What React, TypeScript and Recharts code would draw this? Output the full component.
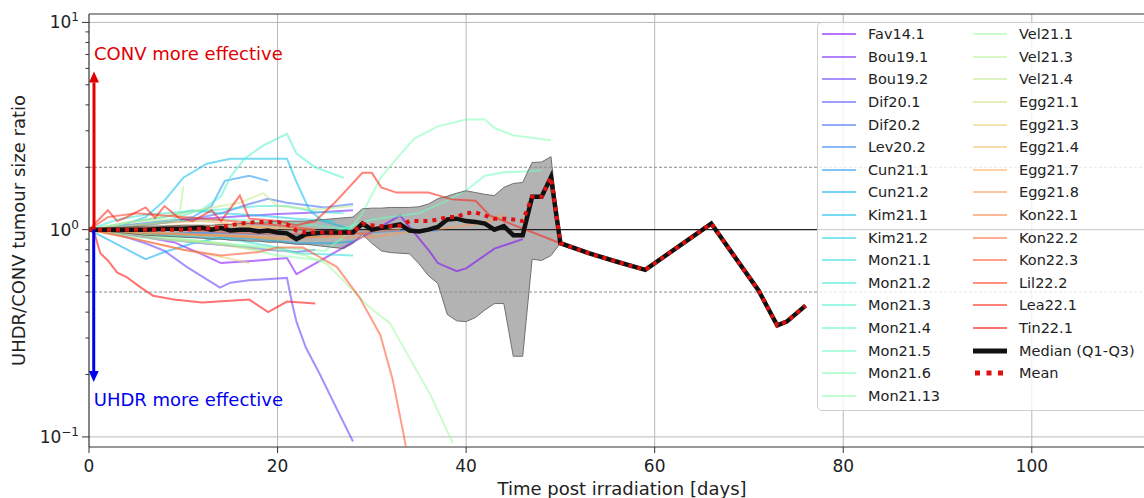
import { ComposedChart, Line, Area, XAxis, YAxis, ReferenceLine } from 'recharts'

const studyNames = [
  'Fav14.1', 'Bou19.1', 'Bou19.2', 'Dif20.1', 'Dif20.2', 'Lev20.2', 'Cun21.1', 'Cun21.2',
  'Kim21.1', 'Kim21.2', 'Mon21.1', 'Mon21.2', 'Mon21.3', 'Mon21.4', 'Mon21.5', 'Mon21.6',
  'Mon21.13', 'Vel21.1', 'Vel21.3', 'Vel21.4', 'Egg21.1', 'Egg21.3', 'Egg21.4', 'Egg21.7',
  'Egg21.8', 'Kon22.1', 'Kon22.2', 'Kon22.3', 'Lil22.2', 'Lea22.1', 'Tin22.1',
]

// [day, UHDR/CONV ratio]
const Fav14_1 = [[0, 1], [3, 0.96], [6, 0.92], [9, 0.87], [12, 0.76], [14, 0.69], [16, 0.7], [18, 0.71], [21, 0.73], [22, 0.61], [33, 1.17], [36, 0.8], [37, 0.69], [39, 0.63], [40, 0.65], [43, 0.81], [46, 0.9]]
const Bou19_1 = [[0, 1], [4, 1.05], [8, 1.1], [12, 1.13], [16, 1.16], [20, 1.19], [24, 1.21], [28, 1.24]]
const Bou19_2 = [[0, 1], [3, 0.95], [6, 0.86], [8, 0.79], [10.4, 0.66], [13.9, 0.525], [15, 0.555], [17, 0.57], [21, 0.585], [21.5, 0.45], [22, 0.36], [23, 0.27], [24.5, 0.2], [26, 0.145], [28, 0.095]]
const Dif20_1 = [[0, 1], [4, 0.95], [8, 0.9], [12, 0.86], [16, 0.83], [19, 0.8], [22, 0.78], [24, 0.8]]
const Dif20_2 = [[0, 1], [5, 1.05], [10, 1.1], [14, 1.2], [17, 1.33], [19, 1.41], [21, 1.35], [25, 1.28], [28, 1.33]]
const Lev20_2 = [[0, 1], [4, 0.97], [8, 0.95], [12, 0.97], [16, 0.96], [20, 0.95], [24, 0.94], [28, 0.96], [33, 0.99], [37, 0.99]]
const Cun21_1 = [[0, 1], [4, 1.03], [8, 1.08], [11, 1.15], [13, 1.3], [14.4, 1.72], [17, 1.82], [19, 1.72]]
const Cun21_2 = [[0, 1], [3, 0.85], [6, 0.72], [8, 0.78], [11, 0.86], [14, 0.92], [18, 0.9], [22, 0.86], [26, 0.86], [28, 0.88]]
const Kim21_1 = [[0, 1], [3, 1.03], [6, 1.15], [8, 1.38], [10, 1.78], [12.5, 2.08], [15, 2.2], [21, 2.2], [22, 1.7], [23.4, 1.24], [24.8, 1.1], [27.7, 1.01]]
const Kim21_2 = [[0, 1], [4, 1.08], [8, 1.15], [11, 1.24], [14, 1.2], [18, 1.17], [22, 1.13], [26, 1.1]]
const Mon21_1 = [[0, 1], [5, 0.95], [10, 0.93], [15, 0.9], [20, 0.82], [22, 0.77], [25, 0.76], [28, 0.75]]
const Mon21_2 = [[0, 1], [3, 1.12], [6, 1.18], [10, 1.22], [14, 1.25], [18, 1.3], [21, 1.3], [24, 1.22], [27, 1.2]]
const Mon21_3 = [[0, 1], [4, 1.03], [8, 1.1], [12, 1.25], [14, 1.45], [15, 1.8], [16.5, 2.2], [18.5, 2.55], [21, 2.9], [22, 2.33], [24, 2.0], [27, 1.78]]
const Mon21_4 = [[0, 1], [5, 1.06], [10, 1.1], [15, 1.12], [20, 1.08], [24, 1.05], [28, 1.0]]
const Mon21_5 = [[0, 1], [5, 0.97], [10, 0.95], [15, 0.93], [20, 0.9], [25, 0.95], [30, 1.12], [35, 1.2], [38, 1.38], [40, 1.55], [42, 1.82], [44, 1.89], [48, 1.93]]
const Mon21_6 = [[0, 1], [5, 0.95], [10, 0.9], [15, 0.85], [20, 0.82], [25, 0.79], [27, 0.92], [29, 1.2], [31, 1.8], [33, 2.3], [34.5, 2.75], [37, 3.15], [40, 3.4], [42, 3.4], [43, 3.1], [45, 2.85], [49, 2.7]]
const Mon21_13 = [[0, 1], [5, 0.92], [10, 0.88], [15, 0.85], [20, 0.75], [25, 0.71]]
const Vel21_1 = [[0, 1], [5, 0.95], [10, 0.9], [15, 0.85], [20, 0.8], [23, 0.75], [25.2, 0.685], [27.7, 0.525], [29.8, 0.42], [31.9, 0.355], [34, 0.24], [36.2, 0.16], [38.6, 0.093]]
const Vel21_3 = [[0, 1], [4, 1.08], [8, 1.12], [9.5, 1.1], [10, 1.62]]
const Vel21_4 = [[0, 1], [5, 1.1], [10, 1.2], [14, 1.3], [16, 1.35], [18.5, 1.5], [20, 1.3], [24, 1.25], [28, 1.3]]
const Egg21_1 = [[0, 1], [4, 0.95], [8, 0.9], [12, 0.87], [16, 0.82], [18, 0.8]]
const Egg21_3 = [[0, 1], [5, 0.9], [10, 0.8], [14, 0.74], [17, 0.69]]
const Egg21_4 = [[0, 1], [5, 1.03], [10, 1.05], [15, 1.04], [20, 1.02], [24, 1.0]]
const Egg21_7 = [[0, 1], [4, 1.04], [8, 1.08], [12, 1.1], [16, 1.06], [20, 1.0]]
const Egg21_8 = [[0, 1], [10, 0.95], [20, 0.92], [30, 0.92], [34, 0.98], [38, 1.02], [42, 1.08], [44, 1.18]]
const Kon22_1 = [[0, 1], [5, 0.96], [10, 0.95], [15, 0.93], [20, 0.9], [25, 0.93], [30, 0.98], [33, 1.0]]
const Kon22_2 = [[0, 1], [5, 1.02], [10, 1.0], [15, 0.97], [20, 0.95], [25, 0.96], [30, 0.95]]
const Kon22_3 = [[0, 1], [5, 0.9], [10, 0.8], [14, 0.75], [18, 0.78], [20, 0.82], [22.7, 0.82], [26.3, 0.66], [28.7, 0.47], [30.9, 0.31], [32.2, 0.19], [33.3, 0.107], [33.6, 0.09]]
const Lil22_2 = [[0, 1], [2, 1.15], [5, 1.2], [10, 1.15], [15, 1.1], [20, 1.05], [24, 1.0]]
const Lea22_1 = [[0, 1], [2, 1.24], [3, 1.1], [4, 1.15], [6, 1.28], [7, 1.14], [8, 1.3], [9.5, 1.14], [11, 1.1], [13, 1.24], [14, 1.1], [16, 1.46], [17, 1.13], [20, 1.1], [22, 1.05], [24, 1.1], [26, 1.34], [29, 1.88], [30, 1.88], [31, 1.6], [32.6, 1.51], [36, 1.51], [38.5, 1.4], [41, 1.38], [42.5, 1.17], [50, 0.86]]
const Tin22_1 = [[0, 1], [0.6, 0.955], [1.2, 0.77], [2, 0.71], [3, 0.62], [4, 0.59], [5.4, 0.53], [6.8, 0.48], [9, 0.46], [12, 0.445], [17, 0.46], [19, 0.4], [21, 0.45], [24, 0.44]]

const studies = [
  Fav14_1, Bou19_1, Bou19_2, Dif20_1, Dif20_2, Lev20_2, Cun21_1, Cun21_2, Kim21_1, Kim21_2,
  Mon21_1, Mon21_2, Mon21_3, Mon21_4, Mon21_5, Mon21_6, Mon21_13, Vel21_1, Vel21_3, Vel21_4,
  Egg21_1, Egg21_3, Egg21_4, Egg21_7, Egg21_8, Kon22_1, Kon22_2, Kon22_3, Lil22_2, Lea22_1, Tin22_1,
]

const summaryDays = [0, 2, 4, 6, 8, 10, 12, 13, 14, 15, 16, 17, 18, 19, 20, 21, 22, 23, 24, 25, 26, 27, 28, 29, 30, 31, 32, 33, 34, 35, 36, 37, 38, 39, 40, 41, 42, 43, 44, 45, 46, 47, 48, 49, 50, 53, 56, 59, 66, 71, 73, 74, 76]
const medianVals = [1.0, 1.0, 1.0, 1.0, 1.01, 1.01, 1.02, 1.0, 1.02, 0.99, 1.0, 1.0, 0.98, 0.99, 0.97, 0.96, 0.9, 0.95, 0.96, 0.97, 0.97, 0.97, 0.97, 1.07, 1.0, 1.02, 1.04, 1.06, 0.99, 0.98, 1.0, 1.03, 1.12, 1.13, 1.1, 1.09, 1.07, 1.0, 1.04, 0.94, 0.94, 1.44, 1.44, 1.79, 0.86, 0.77, 0.7, 0.64, 1.07, 0.51, 0.345, 0.36, 0.43]
const meanVals = [1.0, 1.0, 1.0, 1.0, 1.0, 1.0, 1.01, 1.02, 1.03, 1.05, 1.07, 1.08, 1.09, 1.09, 1.09, 1.06, 0.99, 0.97, 0.97, 0.97, 0.97, 0.97, 0.97, 1.07, 1.05, 1.04, 1.04, 1.045, 1.1, 1.1, 1.1, 1.12, 1.15, 1.15, 1.2, 1.21, 1.17, 1.13, 1.13, 1.12, 1.1, 1.44, 1.44, 1.79, 0.86, 0.77, 0.7, 0.64, 1.07, 0.51, 0.345, 0.36, 0.43]
const q1Vals = [1.0, 0.98, 0.96, 0.94, 0.93, 0.92, 0.91, 0.9, 0.9, 0.89, 0.89, 0.88, 0.88, 0.87, 0.87, 0.86, 0.85, 0.85, 0.84, 0.83, 0.82, 0.81, 0.86, 0.95, 0.86, 0.79, 0.775, 0.77, 0.765, 0.685, 0.6, 0.55, 0.39, 0.363, 0.36, 0.377, 0.41, 0.44, 0.44, 0.245, 0.245, 0.72, 0.71, 0.75, 0.86, 0.77, 0.7, 0.64, 1.07, 0.51, 0.345, 0.36, 0.43]
const q3Vals = [1.0, 1.02, 1.03, 1.04, 1.04, 1.05, 1.05, 1.05, 1.06, 1.06, 1.07, 1.07, 1.08, 1.09, 1.1, 1.1, 1.1, 1.1, 1.11, 1.12, 1.13, 1.14, 1.15, 1.26, 1.27, 1.27, 1.28, 1.28, 1.28, 1.29, 1.33, 1.41, 1.45, 1.5, 1.54, 1.51, 1.48, 1.46, 1.6, 1.67, 1.69, 2.11, 2.12, 2.25, 0.86, 0.77, 0.7, 0.64, 1.07, 0.51, 0.345, 0.36, 0.43]

const xTicks = [0, 20, 40, 60, 80, 100]
const yMajor = [0.1, 1, 10]
const yMinor = [0.2, 0.3, 0.4, 0.5, 0.6, 0.7, 0.8, 0.9, 2, 3, 4, 5, 6, 7, 8, 9]
const yDomain = [0.0894, 10.98]
const xDomain = [0, 111.9]

const FONT = 'DejaVu Sans'

// matplotlib "rainbow" colormap
function rainbow(t: number) {
  const r = Math.min(1, Math.abs(2 * t - 0.5))
  const g = Math.sin(Math.PI * t)
  const b = Math.cos((Math.PI * t) / 2)
  return `rgb(${Math.round(r * 255)},${Math.round(g * 255)},${Math.round(b * 255)})`
}

const rows = summaryDays.map((d, i) => ({
  d,
  median: medianVals[i],
  mean: meanVals[i],
  q1: q1Vals[i],
  q3: q3Vals[i],
  band: [q1Vals[i], q3Vals[i]],
}))

const expLabel: Record<string, string> = { '0.1': '\u22121', '1': '0', '10': '1' }

function YTick(props: any) {
  const { x, y, payload } = props
  const major = yMajor.includes(payload.value)
  return (
    <g>
      <line x1={x - (major ? 7 : 3.5)} x2={x} y1={y} y2={y} stroke="#333" strokeWidth={1} />
      {major && (
        <text x={x - 10} y={y + 6} textAnchor="end" fontSize={17} fill="#222" fontFamily={FONT}>
          10<tspan fontSize={12} dy={-7}>{expLabel[String(payload.value)]}</tspan>
        </text>
      )}
    </g>
  )
}

const arrowShape = (color: string, text: string, up: boolean) => (props: any) => {
  const { x1, y1, x2, y2 } = props
  const head = 11
  const half = 5
  const dir = up ? -1 : 1
  const baseY = y2 - dir * head
  return (
    <g>
      <line x1={x1} y1={y1} x2={x2} y2={baseY} stroke={color} strokeWidth={3} />
      <polygon points={`${x2},${y2} ${x2 - half},${baseY} ${x2 + half},${baseY}`} fill={color} />
      <text x={x2} y={up ? y2 - 11 : y2 + 24} fill={color} fontSize={18} fontFamily={FONT}>{text}</text>
    </g>
  )
}

function LegendBox() {
  const entries = studyNames.map((name, i) => ({ name, kind: 'study', color: rainbow(i / 30) }))
  const all = [...entries, { name: 'Median (Q1-Q3)', kind: 'median', color: '#111' }, { name: 'Mean', kind: 'mean', color: '#e01010' }]
  return (
    <div style={{
      position: 'absolute', left: 817, top: 22, width: 340, height: 387,
      border: '1px solid #d0d0d0', borderRadius: 5, background: 'rgba(255,255,255,0.8)',
      fontFamily: FONT, fontSize: 14.5, color: '#222',
    }}>
      {all.map((e, i) => {
        const col = i < 17 ? 0 : 1
        const row = i < 17 ? i : i - 17
        const left = col === 0 ? 4 : 155
        return (
          <div key={e.name} style={{ position: 'absolute', left, top: row * 22.6, height: 22.6, display: 'flex', alignItems: 'center', whiteSpace: 'nowrap' }}>
            <svg width={34} height={10} style={{ marginRight: 12 }}>
              {e.kind === 'study' && <line x1={0} x2={34} y1={5} y2={5} stroke={e.color} strokeOpacity={0.55} strokeWidth={2.2} />}
              {e.kind === 'median' && <line x1={0} x2={34} y1={5} y2={5} stroke={e.color} strokeWidth={5} />}
              {e.kind === 'mean' && <line x1={2} x2={34} y1={5} y2={5} stroke={e.color} strokeWidth={5} strokeDasharray="5 6.5" />}
            </svg>
            <span>{e.name}</span>
          </div>
        )
      })}
    </div>
  )
}

export default function App() {
  return (
    <div style={{ position: 'absolute', left: 0, top: 0, width: 1144, height: 498, overflow: 'hidden', background: '#fff', fontFamily: FONT }}>
      <ComposedChart width={1144} height={498} data={rows} margin={{ top: 14, right: 0, bottom: 0, left: 0 }}>
        <XAxis
          dataKey="d"
          type="number"
          domain={xDomain}
          ticks={xTicks}
          allowDataOverflow
          height={51}
          interval={0}
          axisLine={{ stroke: '#333', strokeWidth: 1.2 }}
          tickLine={{ stroke: '#333' }}
          tickSize={6}
          tickMargin={7}
          tick={{ fill: '#222', fontSize: 17, fontFamily: FONT }}
          label={{
            content: (p: any) => (
              <text x={p.viewBox.x + p.viewBox.width / 2 + 5.5} y={p.viewBox.y + 48} textAnchor="middle" fontSize={18} fill="#222" fontFamily={FONT}>
                Time post irradiation [days]
              </text>
            ),
          }}
        />
        <YAxis
          type="number"
          scale="log"
          domain={yDomain}
          allowDataOverflow
          ticks={[...yMajor, ...yMinor].sort((a, b) => a - b)}
          interval={0}
          width={89}
          tickSize={0}
          tickMargin={0}
          tickLine={false}
          axisLine={{ stroke: '#333', strokeWidth: 1.2 }}
          tick={(p: any) => <YTick {...p} />}
          label={{
            content: (p: any) => (
              <text transform={`translate(25, ${p.viewBox.y + p.viewBox.height / 2}) rotate(-90)`} textAnchor="middle" fontSize={18} fill="#222" fontFamily={FONT}>
                UHDR/CONV tumour size ratio
              </text>
            ),
          }}
        />

        {xTicks.slice(1).map((t) => (
          <ReferenceLine key={'gx' + t} x={t} stroke="#b8b8b8" strokeWidth={1} />
        ))}
        {[0.1, 10].map((t) => (
          <ReferenceLine key={'gy' + t} y={t} stroke="#b8b8b8" strokeWidth={1} />
        ))}
        <ReferenceLine y={2} stroke="#8c8c8c" strokeWidth={1} strokeDasharray="3 2" />
        <ReferenceLine y={0.5} stroke="#8c8c8c" strokeWidth={1} strokeDasharray="3 2" />
        <ReferenceLine y={1} stroke="#222" strokeWidth={1.1} />
        <ReferenceLine y={yDomain[1]} stroke="#333" strokeWidth={1.2} />

        {studies.map((s, i) => (
          <Line
            key={studyNames[i]}
            data={s.map(([d, v]) => ({ d, v }))}
            dataKey="v"
            type="linear"
            stroke={rainbow(i / 30)}
            strokeOpacity={0.55}
            strokeWidth={2}
            dot={false}
            isAnimationActive={false}
          />
        ))}

        <Area dataKey="band" type="linear" stroke="none" fill="#808080" fillOpacity={0.6} isAnimationActive={false} />
        <Line dataKey="q1" type="linear" stroke="#707070" strokeWidth={1} dot={false} isAnimationActive={false} />
        <Line dataKey="q3" type="linear" stroke="#707070" strokeWidth={1} dot={false} isAnimationActive={false} />
        <Line dataKey="median" type="linear" stroke="#111" strokeWidth={4.5} dot={false} isAnimationActive={false} />
        <Line dataKey="mean" type="linear" stroke="#e01010" strokeWidth={4} strokeDasharray="4 5" dot={false} isAnimationActive={false} />

        <ReferenceLine
          segment={[{ x: 0.53, y: 1 }, { x: 0.53, y: 5.8 }]}
          shape={arrowShape('#e00000', 'CONV more effective', true)}
        />
        <ReferenceLine
          segment={[{ x: 0.5, y: 1 }, { x: 0.5, y: 0.184 }]}
          shape={arrowShape('#0000f0', 'UHDR more effective', false)}
        />
      </ComposedChart>
      <LegendBox />
    </div>
  )
}
